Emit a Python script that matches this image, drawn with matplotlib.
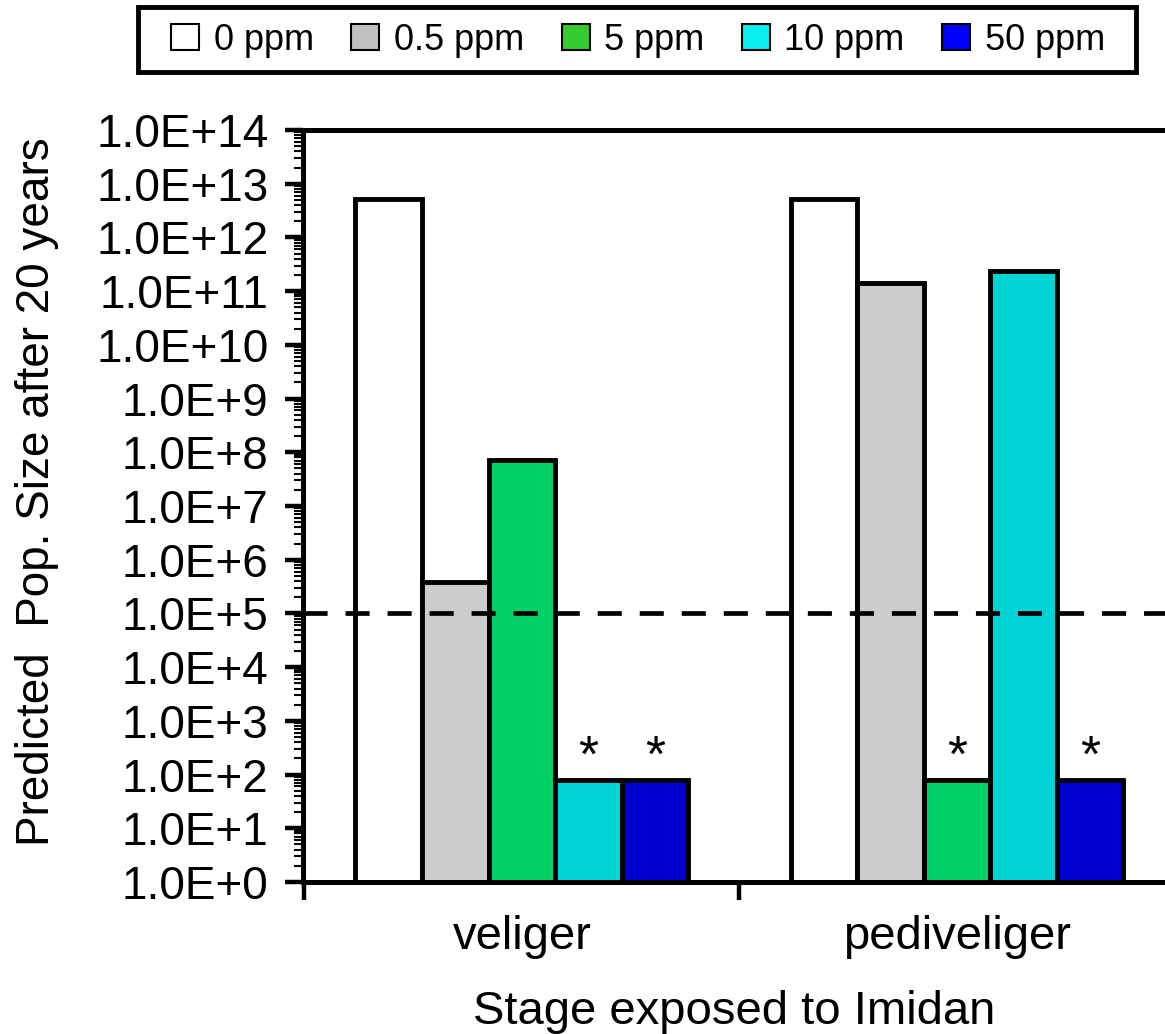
import numpy as np
import matplotlib
matplotlib.use("Agg")
import matplotlib.pyplot as plt
import matplotlib.patches as mpatches
from matplotlib.ticker import LogLocator, FuncFormatter, NullFormatter

plt.rcParams['font.family'] = ['Liberation Sans', 'DejaVu Sans']

# predicted population size after 20 years, per exposed stage and dose
stages = ['veliger', 'pediveliger']
doses = ['0 ppm', '0.5 ppm', '5 ppm', '10 ppm', '50 ppm']
pop_size = {
    '0 ppm':   [5.2e12, 5.2e12],
    '0.5 ppm': [3.9e5, 1.4e11],
    '5 ppm':   [7.2e7, 80],
    '10 ppm':  [80, 2.4e11],
    '50 ppm':  [80, 80],
}
# asterisks over the extinct populations
extinct = {
    '0 ppm':   [False, False],
    '0.5 ppm': [False, False],
    '5 ppm':   [False, True],
    '10 ppm':  [True, False],
    '50 ppm':  [True, True],
}
threshold = 1e5

bar_colors = ['#ffffff', '#cccccc', '#00d166', '#00d4d4', '#0000d0']
legend_colors = ['#ffffff', '#c0c0c0', '#33cc33', '#0af0f0', '#0000ff']

W, H = 1165, 1034
fig = plt.figure(figsize=(W / 100, H / 100), dpi=100)
ax = fig.add_axes([303/W, 152/H, 862/W, 752/H])

x = np.arange(len(stages))
w = 0.153
for i, d in enumerate(doses):
    xs = x + (i - 2) * w
    ax.bar(xs, pop_size[d], width=w, color=bar_colors[i], edgecolor='black',
           linewidth=3.5, zorder=2)
    for xi, v, star in zip(xs, pop_size[d], extinct[d]):
        if star:
            ax.annotate('*', (xi, v), xytext=(0, -2), textcoords='offset points',
                        ha='center', va='bottom', fontsize=37)

ax.axhline(threshold, color='black', linewidth=3.4, linestyle=(0, (5.1, 3.8)), zorder=3)

ax.set_yscale('log')
ax.set_ylim(1, 1e14)
ax.set_xlim(-0.503, 1.478)

ax.yaxis.set_major_locator(LogLocator(base=10, numticks=20))
ax.yaxis.set_minor_locator(LogLocator(base=10, subs=np.arange(2, 10), numticks=20))
ax.yaxis.set_major_formatter(FuncFormatter(lambda v, p: '1.0E+%d' % round(np.log10(v))))
ax.yaxis.set_minor_formatter(NullFormatter())
ax.tick_params(axis='y', which='major', direction='out', length=13, width=3.2,
               labelsize=33, pad=12)
ax.tick_params(axis='y', which='minor', direction='out', length=6.5, width=1.5)

# group boundaries get the tick marks, stage names sit between them
ax.set_xticks([-0.5, 0.5])
ax.set_xticklabels(['', ''])
ax.set_xticks(x, minor=True)
ax.set_xticklabels(stages, minor=True)
ax.tick_params(axis='x', which='major', direction='out', length=13, width=3.2)
ax.tick_params(axis='x', which='minor', length=0, labelsize=34, pad=24)

for s in ['left', 'bottom', 'top']:
    ax.spines[s].set_linewidth(3.6)
ax.spines['right'].set_visible(False)

ax.set_xlabel('Stage exposed to Imidan', fontsize=34, labelpad=22)
ax.set_ylabel('Predicted  Pop. Size after 20 years', fontsize=33, va='center')
ax.yaxis.set_label_coords(-0.309, 0.519)

# legend entries spread over the top strip, with a plain black box round them
handles = [mpatches.Patch(facecolor=c, edgecolor='black', linewidth=1.5, label=d)
           for c, d in zip(legend_colors, doses)]
fig.legend(handles=handles, loc='center', ncol=5, mode='expand',
           bbox_to_anchor=(171/W, 1 - 70/H, 934/W, 60/H),
           fontsize=26, frameon=False, borderpad=0, handlelength=0.78,
           handleheight=0.72, handletextpad=0.4, columnspacing=0.8,
           borderaxespad=0)
fig.patches.append(mpatches.Rectangle((138/W, 1 - 72/H), 998/W, 65/H,
                                      transform=fig.transFigure, fill=False,
                                      edgecolor='black', linewidth=3.5))

fig.savefig('out.png', dpi=100)
